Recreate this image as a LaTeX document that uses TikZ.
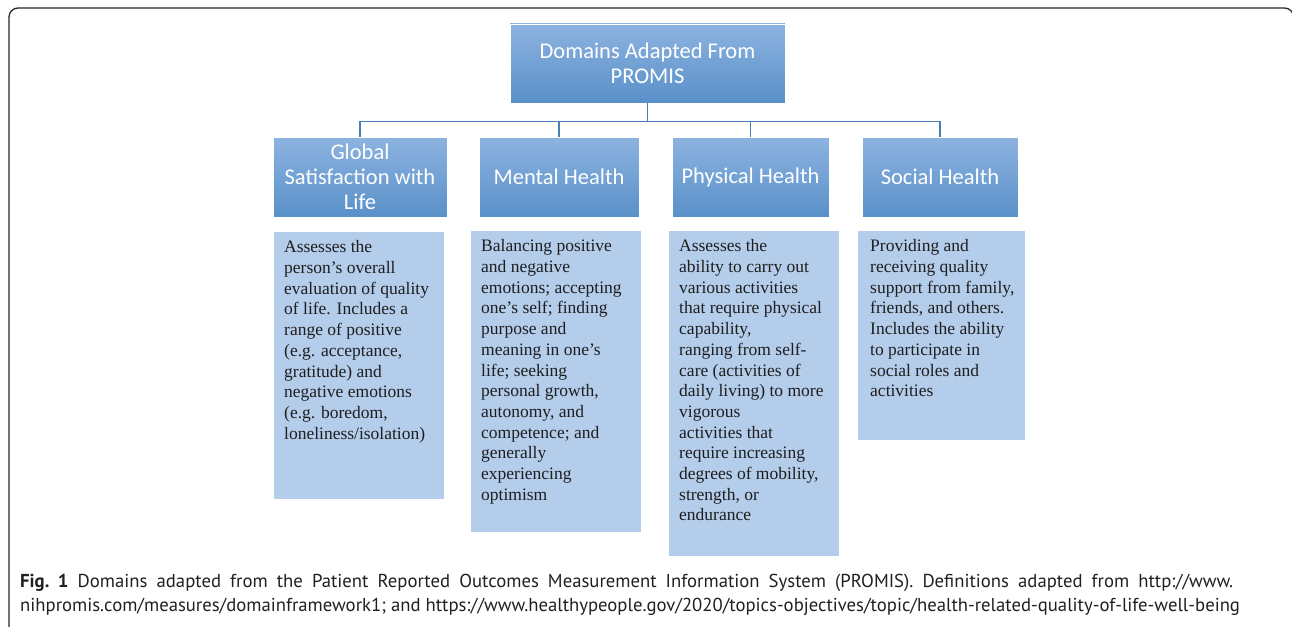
\documentclass[tikz,border=0pt]{standalone}
\usepackage{fontspec}
\setmainfont{Liberation Serif}
\newfontfamily\hfont{Carlito}
\newfontfamily\capfont{PT Sans}
\definecolor{hdtop}{HTML}{8DB3E0}
\definecolor{hdbot}{HTML}{5990C9}
\definecolor{descfill}{HTML}{B4CDEB}
\definecolor{conncol}{HTML}{4A7EBB}
\definecolor{textcol}{HTML}{1E1E1E}
\definecolor{capcol}{HTML}{231F20}
\tikzset{
  hdbox/.style={draw=white, line width=0.8pt, top color=hdtop, bottom color=hdbot,
    text=white, font=\hfont\fontsize{22.5}{25}\selectfont, align=center, inner sep=0pt},
  descbox/.style={fill=descfill, inner sep=0pt, anchor=north west, draw=none},
  desctext/.style={anchor=north west, inner sep=0pt, align=left,
    font=\fontsize{17.5}{20.7}\selectfont, text=textcol},
  conn/.style={draw=conncol, line width=1.2pt},
  captext/.style={anchor=base west, inner sep=0pt, text=capcol,
    font=\capfont\fontsize{18.7}{24}\selectfont\frenchspacing}
}
\begin{document}
\begin{tikzpicture}[x=1pt,y=-1pt]
\useasboundingbox (0,0) rectangle (1292,626);
\draw[line width=1.3pt, rounded corners=9pt, draw=black!85] (9,8) rectangle (1293.5,640);

% top node
\node[hdbox, minimum width=275, minimum height=79] (top) at (647.5,63.5) {Domains Adapted From\\PROMIS};

% headings
\node[hdbox, minimum width=174, minimum height=80] (gh) at (360,177) {Global\\Satisfaction with\\Life};
\node[hdbox, minimum width=160, minimum height=80] (mh) at (559,177) {Mental Health};
\node[hdbox, minimum width=157, minimum height=80] (ph) at (750.5,177) {Physical Health};
\node[hdbox, minimum width=156, minimum height=80] (sh) at (940,177) {Social Health};

% connectors
\coordinate (hub) at ([yshift=-18pt]top.south);
\draw[conn] (top.south) -- (hub);
\draw[conn] (gh.north) |- (hub) -| (sh.north);
\draw[conn] (mh.north) -- (mh.north |- hub);
\draw[conn] (ph.north) -- (ph.north |- hub);

% description boxes
\node[descbox, minimum width=170, minimum height=267] (gd) at (274,232) {};
\node[descbox, minimum width=170, minimum height=301] (md) at (471,231) {};
\node[descbox, minimum width=170, minimum height=325] (pd) at (669,231) {};
\node[descbox, minimum width=167, minimum height=209] (sd) at (858,231) {};

\node[desctext] (gt) at ([xshift=10pt,yshift=-8.5pt]gd.north west) {Assesses the\\person’s overall\\evaluation of quality\\of life. Includes a\\range of positive\\(e.g. acceptance,\\gratitude) and\\negative emotions\\(e.g. boredom,\\loneliness/isolation)};
\node[desctext] (mt) at ([xshift=10pt,yshift=-8.5pt]md.north west) {Balancing positive\\and negative\\emotions; accepting\\one’s self; finding\\purpose and\\meaning in one’s\\life; seeking\\personal growth,\\autonomy, and\\competence; and\\generally\\experiencing\\optimism};
\node[desctext] (pt) at ([xshift=10pt,yshift=-8.5pt]pd.north west) {Assesses the\\ability to carry out\\various activities\\that require physical\\capability,\\ranging from self-\\care (activities of\\daily living) to more\\vigorous\\activities that\\require increasing\\degrees of mobility,\\strength, or\\endurance};
\node[desctext] (st) at ([xshift=12pt,yshift=-8.5pt]sd.north west) {Providing and\\receiving quality\\support from family,\\friends, and others.\\Includes the ability\\to participate in\\social roles and\\activities};

% caption (first line justified to full width)
\node[captext] (cap1) at (20,587) {\makebox[1213pt][s]{\textbf{Fig.\ 1} Domains adapted from the Patient Reported Outcomes Measurement Information System (PROMIS). Definitions adapted from http://www.}};
\node[captext] (cap2) at (20,611) {nihpromis.com/measures/domainframework1; and https://www.healthypeople.gov/2020/topics-objectives/topic/health-related-quality-of-life-well-being};
\end{tikzpicture}
\end{document}
